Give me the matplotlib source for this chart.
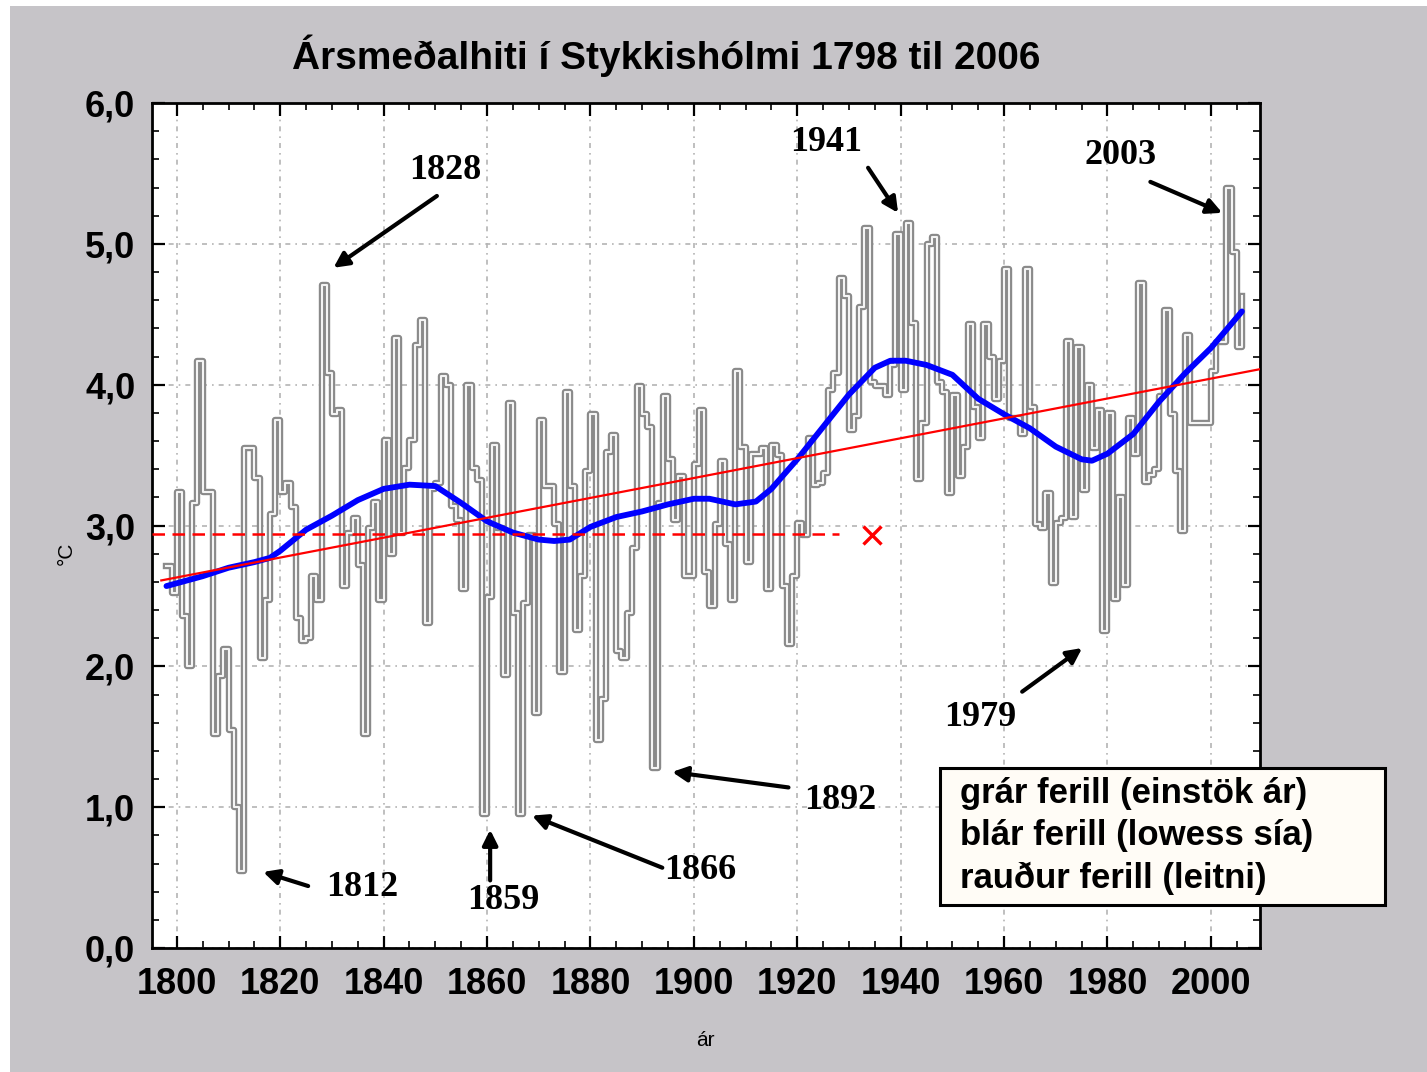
import numpy as np
import matplotlib
matplotlib.use('Agg')
import matplotlib.pyplot as plt
from matplotlib.patches import Rectangle
from matplotlib.ticker import MultipleLocator, FixedLocator

# ---------------- data ----------------
years = list(range(1798, 2007))
temps = [
    2.71, 2.52, 3.24, 2.36, 2.00, 3.16, 4.17, 3.24, 3.24, 1.52,   # 1798-1807
    1.93, 2.12, 1.55, 1.00, 0.55, 3.55, 3.55, 3.34, 2.06, 2.47,   # 1808-1817
    3.08, 3.75, 3.24, 3.30, 3.13, 2.34, 2.18, 2.20, 2.64, 2.47,   # 1818-1827
    4.71, 4.08, 3.79, 3.82, 2.57, 2.95, 3.05, 2.72, 1.52, 2.98,   # 1828-1837
    3.17, 2.47, 3.61, 2.80, 4.33, 2.95, 3.41, 3.61, 4.28, 4.46,   # 1838-1847
    2.31, 3.26, 3.30, 4.06, 4.00, 3.14, 3.04, 2.55, 4.00, 3.41,   # 1848-1857
    3.32, 0.95, 2.49, 3.57, 2.98, 1.94, 3.87, 2.38, 0.95, 2.45,   # 1858-1867
    2.93, 1.67, 3.75, 3.28, 3.28, 3.01, 1.96, 3.95, 3.28, 2.26,   # 1868-1877
    2.64, 3.39, 3.79, 1.48, 1.77, 3.52, 3.64, 2.11, 2.06, 2.38,   # 1878-1887
    2.84, 3.99, 3.79, 3.70, 1.28, 3.16, 3.92, 3.47, 3.04, 3.35,   # 1888-1897
    2.64, 2.64, 3.44, 3.82, 2.67, 2.43, 3.01, 3.46, 2.87, 2.47,   # 1898-1907
    4.10, 3.56, 2.74, 3.51, 3.51, 3.55, 2.55, 3.57, 3.50, 2.57,   # 1908-1917
    2.16, 2.64, 3.02, 2.93, 3.62, 3.29, 3.30, 3.37, 3.96, 4.08,   # 1918-1927
    4.76, 4.63, 3.68, 3.78, 4.55, 5.11, 4.02, 3.99, 3.99, 3.93,   # 1928-1937
    4.14, 5.07, 3.96, 5.15, 4.44, 3.33, 3.73, 5.00, 5.05, 4.02,   # 1938-1947
    3.95, 3.23, 3.93, 3.35, 3.56, 4.43, 3.84, 3.62, 4.43, 4.20,   # 1948-1957
    3.90, 4.17, 4.82, 3.76, 3.76, 3.65, 4.82, 3.84, 3.01, 2.98,   # 1958-1967
    3.23, 2.59, 3.02, 3.05, 4.31, 3.06, 4.27, 3.25, 4.00, 3.55,   # 1968-1977
    3.82, 2.25, 3.80, 2.48, 3.20, 2.58, 3.76, 3.51, 4.72, 3.31,   # 1978-1987
    3.36, 3.40, 3.92, 4.53, 3.79, 3.39, 2.96, 4.35, 3.73, 3.73,   # 1988-1997
    3.73, 3.73, 4.10, 4.30, 4.30, 5.40, 4.94, 4.27, 4.63,         # 1998-2006
]

lowess_years = [1798, 1800, 1805, 1810, 1815, 1818, 1820, 1825, 1830, 1835,
                1840, 1845, 1850, 1855, 1860, 1865, 1870, 1873, 1876, 1880,
                1885, 1890, 1895, 1900, 1903, 1908, 1912, 1915, 1920, 1925,
                1930, 1935, 1938, 1941, 1945, 1950, 1955, 1960, 1965, 1970,
                1975, 1977, 1980, 1985, 1990, 1995, 2000, 2006]
lowess_vals = [2.57, 2.59, 2.64, 2.70, 2.74, 2.77, 2.82, 2.97, 3.07, 3.18,
               3.26, 3.29, 3.28, 3.16, 3.03, 2.95, 2.90, 2.89, 2.90, 2.99,
               3.06, 3.10, 3.15, 3.19, 3.19, 3.15, 3.17, 3.26, 3.47, 3.70,
               3.93, 4.12, 4.17, 4.17, 4.14, 4.07, 3.90, 3.79, 3.69, 3.56,
               3.47, 3.46, 3.51, 3.65, 3.88, 4.08, 4.26, 4.52]

trend_years = [1797.0, 2009.5]
trend_vals = [2.61, 4.11]

mean_years = [1795.2, 1928.0]
mean_vals = [2.94, 2.94]
mark_year = [1934.5]
mark_val = [2.93]

y_ticks = [0.0, 1.0, 2.0, 3.0, 4.0, 5.0, 6.0]
y_ticklabels = ["0,0", "1,0", "2,0", "3,0", "4,0", "5,0", "6,0"]
x_ticks = [1800, 1820, 1840, 1860, 1880, 1900, 1920, 1940, 1960, 1980, 2000]

title = "Ársmeðalhiti í Stykkishólmi 1798 til 2006"
legend_lines = ["grár ferill (einstök ár)", "blár ferill (lowess sía)", "rauður ferill (leitni)"]

# annotation labels: (label, text pos, arrow tail, arrow head) in data coords
notes = [
    ("1828", (1851.9, 5.52), (1850.3, 5.34), (1830.3, 4.83)),
    ("1941", (1925.6, 5.72), (1933.7, 5.54), (1939.5, 5.22)),
    ("2003", (1982.5, 5.63), (1988.3, 5.44), (2002.2, 5.22)),
    ("1979", (1955.4, 1.64), (1963.5, 1.82), (1975.1, 2.13)),
    ("1892", (1928.3, 1.05), (1918.3, 1.14), (1895.8, 1.25)),
    ("1866", (1901.2, 0.55), (1893.9, 0.57), (1868.7, 0.94)),
    ("1859", (1863.1, 0.34), (1860.6, 0.48), (1860.6, 0.84)),
    ("1812", (1835.8, 0.43), (1825.4, 0.44), (1816.7, 0.54)),
]

# ---------------- figure ----------------
W, H = 1427, 1072
fig = plt.figure(figsize=(W / 100, H / 100), dpi=100)
fig.patch.set_facecolor('#C6C4C8')
fig.add_artist(Rectangle((0, 0), 10 / W, 1, transform=fig.transFigure,
                         facecolor='white', edgecolor='none', zorder=0))
fig.add_artist(Rectangle((0, 1 - 6 / H), 1, 6 / H, transform=fig.transFigure,
                         facecolor='white', edgecolor='none', zorder=0))

ax = fig.add_axes([152 / W, 1 - 948 / H, (1260 - 152) / W, (948 - 103) / H])
ax.set_facecolor('white')
ax.set_xlim(1795.2, 2009.5)
ax.set_ylim(0, 6)

for s in ax.spines.values():
    s.set_linewidth(2.0)
    s.set_color('black')

ax.xaxis.set_major_locator(FixedLocator(x_ticks))
ax.yaxis.set_major_locator(FixedLocator(y_ticks))
ax.yaxis.set_minor_locator(MultipleLocator(0.2))
ax.xaxis.set_minor_locator(MultipleLocator(5))
ax.set_yticklabels(y_ticklabels)
ax.set_xticklabels([str(v) for v in x_ticks])
ax.tick_params(which='major', direction='in', length=9, width=1.6,
               top=True, right=True, labelsize=26)
ax.tick_params(axis='x', which='major', pad=14)
ax.tick_params(axis='y', which='major', pad=12)
ax.tick_params(which='minor', direction='in', length=5, width=1.2,
               top=True, right=True)
for lab in ax.get_xticklabels() + ax.get_yticklabels():
    lab.set_fontweight('bold')
    lab.set_family('Liberation Sans')

ax.grid(True, which='major', color='#b4b4b4', linestyle=(0, (3, 3, 1, 3)), lw=1.2)
ax.set_axisbelow(True)

# gray hollow step line
ax.step(years, temps, where='post', color='#8a8a8a', lw=4.6, zorder=2)
ax.step(years, temps, where='post', color='#f4f4f4', lw=1.5, zorder=2.1)

# lowess
ax.plot(lowess_years, lowess_vals, color='#0000ff', lw=4.2, zorder=3,
        solid_capstyle='round', solid_joinstyle='round')

# trend and mean
ax.plot(trend_years, trend_vals, color='#ff0000', lw=1.6, zorder=4)
ax.plot(mean_years, mean_vals, color='#ff0000', lw=1.8, ls=(0, (5, 3)), zorder=4)
ax.plot(mark_year, mark_val, marker='x', color='#ff0000', ms=13, mew=2.4,
        ls='none', zorder=4)

# annotations
for lab, tpos, tail, head in notes:
    ax.text(tpos[0], tpos[1], lab, ha='center', va='center', fontsize=26,
            fontweight='bold', family='Liberation Serif', zorder=6, clip_on=False)
    ax.annotate('', xy=head, xytext=tail,
                arrowprops=dict(arrowstyle='-|>,head_length=0.9,head_width=0.45',
                                color='black', lw=3.0, shrinkA=0, shrinkB=0),
                annotation_clip=False, zorder=6)

# titles / labels
fig.text(666 / W, 1 - 56 / H, title, ha='center', va='center', fontsize=28,
         fontweight='bold', family='Liberation Sans')
fig.text(66 / W, 1 - 553 / H, '°C', rotation=90, ha='center', va='center',
         fontsize=15, family='Liberation Sans')
fig.text(705 / W, 1 - 1040 / H, 'ár', ha='center', va='center',
         fontsize=15, family='Liberation Sans')

# legend box
fig.add_artist(Rectangle((940 / W, 1 - 905 / H), (1385 - 940) / W, (905 - 768) / H,
                         transform=fig.transFigure, facecolor='#fffcf6',
                         edgecolor='black', lw=2.2, zorder=7))
for i, line in enumerate(legend_lines):
    fig.text(960 / W, 1 - (794 + 42 * i) / H, line, ha='left', va='center',
             fontsize=25, fontweight='bold', family='Liberation Sans', zorder=8)

fig.savefig('out.png', dpi=100, facecolor=fig.get_facecolor())
